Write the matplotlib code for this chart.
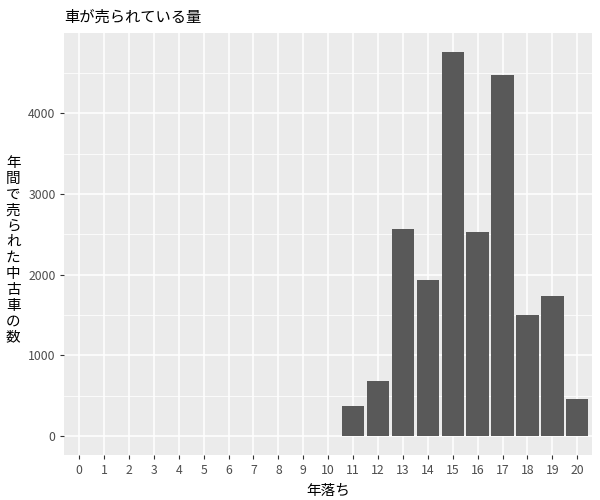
import matplotlib
matplotlib.use("Agg")
import matplotlib.pyplot as plt
from matplotlib.ticker import MultipleLocator

plt.rcParams['font.family'] = ['Noto Sans CJK JP', 'DejaVu Sans']

# data
years = list(range(0, 21))
sold = [0, 0, 0, 0, 0, 0, 0, 0, 0, 0, 0,
        373, 683, 2571, 1938, 4758, 2534, 4472, 1503, 1739, 460]
title = "車が売られている量"
xlabel = "年落ち"
ylabel = "年間で売られた中古車の数"

fig = plt.figure(figsize=(6, 5), dpi=100)
ax = fig.add_axes([0.107, 0.09, 0.88, 0.844])
ax.set_facecolor("#EBEBEB")

ax.bar(years, sold, width=0.9, color="#595959", zorder=3)

# ggplot-like 5% expansion
top = max(sold) * 1.05
ax.set_xlim(-0.6, 20.6)
ax.set_ylim(-max(sold) * 0.05, top)
ax.set_xticks(years)
ax.set_xticklabels([str(y) for y in years])
ax.yaxis.set_major_locator(MultipleLocator(1000))
ax.yaxis.set_minor_locator(MultipleLocator(500))
ax.set_yticks([0, 1000, 2000, 3000, 4000])

ax.grid(which="major", color="white", linewidth=1.1, zorder=0)
ax.grid(which="minor", axis="y", color="white", linewidth=0.55, zorder=0)
ax.set_axisbelow(True)
for s in ax.spines.values():
    s.set_visible(False)

ax.tick_params(which="major", length=3.2, width=0.8, color="#333333",
               labelsize=8.8, labelcolor="#4D4D4D", pad=3)
ax.tick_params(which="minor", length=0)

ax.set_xlabel(xlabel, fontsize=10.5, labelpad=5)
fig.text(0.022, 0.50, "\n".join(ylabel), fontsize=10.5, ha="center", va="center",
         linespacing=1.17)
ax.set_title(title, fontsize=11, loc="left", pad=8)

fig.savefig("out.png", dpi=100)
